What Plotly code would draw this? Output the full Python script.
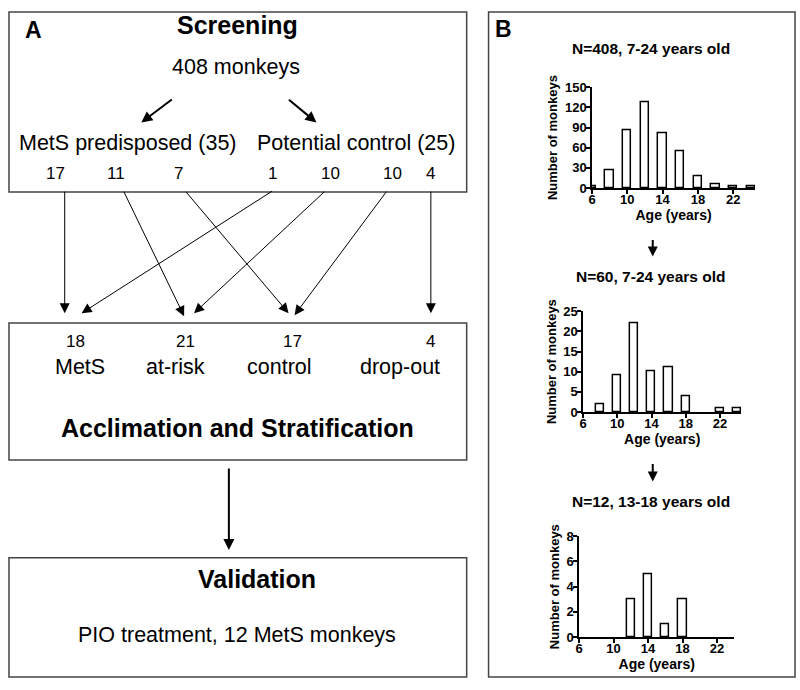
import plotly.graph_objects as go

# ---------------- data ----------------
ages_all = [6, 8, 10, 12, 14, 16, 18, 20, 22, 24]
counts_all = [3, 27, 86, 127, 81, 55, 18, 6, 3, 2]

ages_60 = [8, 10, 12, 14, 16, 18, 22, 24]
counts_60 = [2, 9, 22, 10, 11, 4, 1, 1]

ages_12 = [12, 14, 16, 18]
counts_12 = [3, 5, 1, 3]

hist_titles = ["N=408, 7-24 years old", "N=60, 7-24 years old", "N=12, 13-18 years old"]
age_ticks = [6, 10, 14, 18, 22]

screen_groups = ["MetS predisposed (35)", "Potential control (25)"]
screen_split = ["17", "11", "7", "1", "10", "10", "4"]
strata_counts = ["18", "21", "17", "4"]
strata_labels = ["MetS", "at-risk", "control", "drop-out"]

W, H = 800, 690
def px(x):
    return x / W
def py(y):
    return 1 - y / H

FONT = "Liberation Sans, Arial, sans-serif"

fig = go.Figure()

# ---------------- histograms ----------------
hists = [(ages_all, counts_all), (ages_60, counts_60), (ages_12, counts_12)]
for i, (a, c) in enumerate(hists):
    sfx = "" if i == 0 else str(i + 1)
    fig.add_trace(go.Bar(
        x=a, y=c, width=0.95,
        marker=dict(color="white", line=dict(color="black", width=1.5)),
        xaxis="x" + sfx, yaxis="y" + sfx, showlegend=False, hoverinfo="x+y",
    ))

axis_common = dict(
    showline=True, linecolor="black", linewidth=1.5, ticks="outside",
    ticklen=4, tickwidth=1.5, tickcolor="black", showgrid=False, zeroline=False,
    tickfont=dict(family=FONT, size=13, color="black", weight="bold"),
)
xtitle = dict(text="Age (years)", font=dict(family=FONT, size=14, color="black", weight="bold"), standoff=2)
ytitle = dict(text="Number of monkeys", font=dict(family=FONT, size=13, color="black", weight="bold"), standoff=4)

# panel geometry (pixels)
geo = [
    # x0, x1, y_top, y_bottom, xrange, yrange, dtick
    (591, 755, 82, 185, [6, 24.5], [0, 150], 30),
    (582, 741, 311, 414, [6, 24.5], [0, 25], 5),
    (578, 734, 541, 644, [6, 24], [0, 8], 2),
]
for i, (x0, x1, yt, yb, xr, yr, dt) in enumerate(geo):
    sfx = "" if i == 0 else str(i + 1)
    fig.update_layout(**{
        "xaxis" + sfx: dict(axis_common, domain=[px(x0), px(x1)], range=xr,
                            tickvals=age_ticks, anchor="y" + sfx, title=xtitle,
                            ticklabelstandoff=-5),
        "yaxis" + sfx: dict(axis_common, domain=[py(yb), py(yt)], range=yr,
                            dtick=dt, anchor="x" + sfx, title=ytitle,
                            ticklabelstandoff=-3),
    })

shapes = []
annotations = []

def box(x0, y0, x1, y1):
    shapes.append(dict(type="rect", xref="paper", yref="paper",
                       x0=px(x0), x1=px(x1), y0=py(y1), y1=py(y0),
                       line=dict(color="#444", width=1.5)))

def text(x, y, s, size, bold=False, xanchor="center"):
    annotations.append(dict(xref="paper", yref="paper", x=px(x), y=py(y), text=s,
                            showarrow=False, xanchor=xanchor, yanchor="middle",
                            font=dict(family=FONT, size=size, color="black",
                                      weight="bold" if bold else "normal")))

def arrow(xs, ys, xe, ye, width=1, size=1.0):
    annotations.append(dict(xref="paper", yref="paper", x=px(xe), y=py(ye),
                            ax=xs - xe, ay=ys - ye, axref="pixel", ayref="pixel",
                            text="", showarrow=True, arrowhead=2, arrowsize=size,
                            arrowwidth=width, arrowcolor="black", standoff=0))

# ---------------- panel A ----------------
box(5, 5, 465, 189)
box(5, 323, 465, 463)
box(5, 563, 465, 685)
text(30, 24, "A", 23, bold=True)
text(235, 18, "Screening", 25, bold=True)
text(233, 61, "408 monkeys", 21.5)
arrow(170, 94, 138, 118, width=2, size=1.1)
arrow(285, 94, 314, 118, width=2, size=1.1)
text(125, 139, screen_groups[0], 21.5)
text(354, 139, screen_groups[1], 21.5)

split_x = [52, 113, 175, 270, 328, 390, 429]
for s, x in zip(screen_split, split_x):
    text(x, 170, s, 17)

# flow lines: start x at box bottom -> end x at arrow tips
flow_start = [61, 120, 182, 270, 323, 385, 429]
flow_end = [61, 181, 286, 78, 191, 292, 429]
flow_end_y = [313, 316, 313, 313, 313, 315, 313]
for xs, xe, ye in zip(flow_start, flow_end, flow_end_y):
    arrow(xs, 190, xe, ye, width=1, size=2.0)

strata_x = [72, 182, 290, 429]
label_x = [76, 172, 277, 398]
for s, x in zip(strata_counts, strata_x):
    text(x, 342, s, 17)
for s, x in zip(strata_labels, label_x):
    text(x, 368, s, 21.5)
text(235, 430, "Acclimation and Stratification", 25, bold=True)

arrow(226, 472, 226, 555, width=2, size=1.1)
text(254, 585, "Validation", 25, bold=True)
text(234, 642, "PIO treatment, 12 MetS monkeys", 21.5)

# ---------------- panel B ----------------
box(487, 5, 795, 685)
text(502, 22, "B", 23, bold=True)
title_y = [42, 275, 505]
for s, y in zip(hist_titles, title_y):
    text(650, y, s, 15.5, bold=True)
arrow(652, 237, 652, 255, width=2, size=1.0)
arrow(652, 466, 652, 485, width=2, size=1.0)

fig.update_layout(
    width=W, height=H, margin=dict(l=0, r=0, t=0, b=0),
    paper_bgcolor="white", plot_bgcolor="white",
    shapes=shapes, annotations=annotations, showlegend=False,
    bargap=0,
)

fig.write_html("out.html", config={"displayModeBar": False},
               post_script="document.body.style.margin='0';document.body.style.overflow='hidden';")
